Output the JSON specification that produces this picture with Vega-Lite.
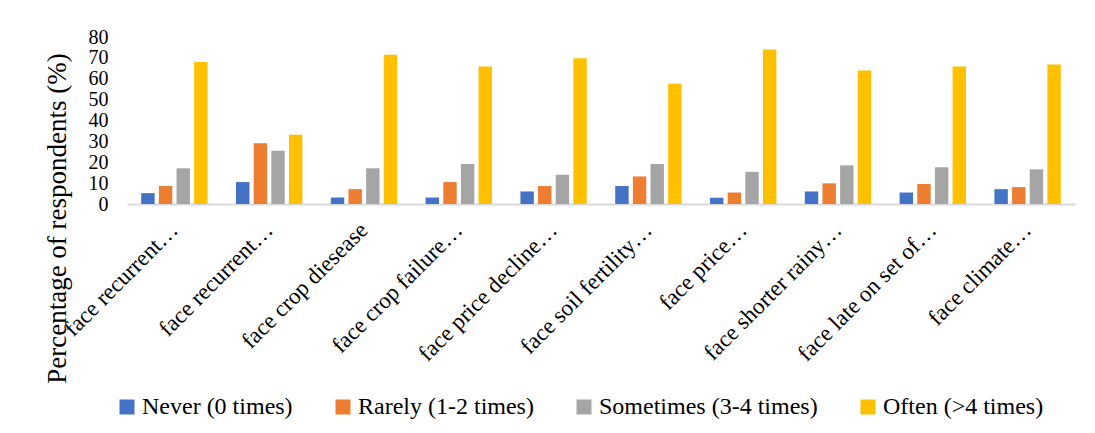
{
  "$schema": "https://vega.github.io/schema/vega-lite/v6.json",
  "autosize": "none",
  "padding": {"left": 127, "top": 37, "right": 20, "bottom": 229},
  "width": 948,
  "height": 167,
  "background": "white",
  "config": {
    "view": {"stroke": null},
    "font": "Liberation Serif",
    "axis": {"labelFont": "Liberation Serif", "titleFont": "Liberation Serif"},
    "legend": {"labelFont": "Liberation Serif"}
  },
  "data": {
    "values": [
      {"issue": "01|face recurrent…", "freq": "Never (0 times)", "pct": 5.2},
      {"issue": "01|face recurrent…", "freq": "Rarely (1-2 times)", "pct": 8.6},
      {"issue": "01|face recurrent…", "freq": "Sometimes (3-4 times)", "pct": 17.1},
      {"issue": "01|face recurrent…", "freq": "Often (>4 times)", "pct": 68.0},
      {"issue": "02|face recurrent…", "freq": "Never (0 times)", "pct": 10.5},
      {"issue": "02|face recurrent…", "freq": "Rarely (1-2 times)", "pct": 29.1},
      {"issue": "02|face recurrent…", "freq": "Sometimes (3-4 times)", "pct": 25.5},
      {"issue": "02|face recurrent…", "freq": "Often (>4 times)", "pct": 33.2},
      {"issue": "03|face crop diesease", "freq": "Never (0 times)", "pct": 3.1},
      {"issue": "03|face crop diesease", "freq": "Rarely (1-2 times)", "pct": 7.1},
      {"issue": "03|face crop diesease", "freq": "Sometimes (3-4 times)", "pct": 17.1},
      {"issue": "03|face crop diesease", "freq": "Often (>4 times)", "pct": 71.5},
      {"issue": "04|face crop failure…", "freq": "Never (0 times)", "pct": 3.1},
      {"issue": "04|face crop failure…", "freq": "Rarely (1-2 times)", "pct": 10.5},
      {"issue": "04|face crop failure…", "freq": "Sometimes (3-4 times)", "pct": 19.2},
      {"issue": "04|face crop failure…", "freq": "Often (>4 times)", "pct": 65.9},
      {"issue": "05|face price decline…", "freq": "Never (0 times)", "pct": 6.0},
      {"issue": "05|face price decline…", "freq": "Rarely (1-2 times)", "pct": 8.6},
      {"issue": "05|face price decline…", "freq": "Sometimes (3-4 times)", "pct": 14.0},
      {"issue": "05|face price decline…", "freq": "Often (>4 times)", "pct": 69.8},
      {"issue": "06|face soil fertility…", "freq": "Never (0 times)", "pct": 8.6},
      {"issue": "06|face soil fertility…", "freq": "Rarely (1-2 times)", "pct": 13.2},
      {"issue": "06|face soil fertility…", "freq": "Sometimes (3-4 times)", "pct": 19.2},
      {"issue": "06|face soil fertility…", "freq": "Often (>4 times)", "pct": 57.6},
      {"issue": "07|face price…", "freq": "Never (0 times)", "pct": 3.0},
      {"issue": "07|face price…", "freq": "Rarely (1-2 times)", "pct": 5.5},
      {"issue": "07|face price…", "freq": "Sometimes (3-4 times)", "pct": 15.4},
      {"issue": "07|face price…", "freq": "Often (>4 times)", "pct": 74.0},
      {"issue": "08|face shorter rainy…", "freq": "Never (0 times)", "pct": 6.0},
      {"issue": "08|face shorter rainy…", "freq": "Rarely (1-2 times)", "pct": 9.9},
      {"issue": "08|face shorter rainy…", "freq": "Sometimes (3-4 times)", "pct": 18.5},
      {"issue": "08|face shorter rainy…", "freq": "Often (>4 times)", "pct": 63.9},
      {"issue": "09|face late on set of…", "freq": "Never (0 times)", "pct": 5.5},
      {"issue": "09|face late on set of…", "freq": "Rarely (1-2 times)", "pct": 9.6},
      {"issue": "09|face late on set of…", "freq": "Sometimes (3-4 times)", "pct": 17.6},
      {"issue": "09|face late on set of…", "freq": "Often (>4 times)", "pct": 65.9},
      {"issue": "10|face climate…", "freq": "Never (0 times)", "pct": 7.1},
      {"issue": "10|face climate…", "freq": "Rarely (1-2 times)", "pct": 8.1},
      {"issue": "10|face climate…", "freq": "Sometimes (3-4 times)", "pct": 16.6},
      {"issue": "10|face climate…", "freq": "Often (>4 times)", "pct": 66.8}
    ]
  },
  "mark": {"type": "bar"},
  "encoding": {
    "x": {
      "field": "issue",
      "type": "nominal",
      "sort": "ascending",
      "scale": {"paddingInner": 0.3, "paddingOuter": 0.15},
      "axis": {
        "title": null,
        "labelExpr": "split(datum.value, '|')[1]",
        "labelFont": "Liberation Serif",
        "labelAngle": -45,
        "labelAlign": "right",
        "labelBaseline": "middle",
        "labelPadding": 22,
        "labelFontSize": 23,
        "labelColor": "#000000",
        "labelLimit": 400,
        "labelOverlap": false,
        "ticks": false,
        "domainColor": "#d9d9d9",
        "domainWidth": 2
      }
    },
    "xOffset": {
      "field": "freq",
      "type": "nominal",
      "sort": ["Never (0 times)", "Rarely (1-2 times)", "Sometimes (3-4 times)", "Often (>4 times)"],
      "scale": {"paddingInner": 0.24}
    },
    "y": {
      "field": "pct",
      "type": "quantitative",
      "scale": {"domain": [0, 80], "nice": false},
      "axis": {
        "title": "Percentage of respondents (%)",
        "titleFont": "Liberation Serif",
        "titleFontSize": 27,
        "titleFontWeight": "normal",
        "titleColor": "#000000",
        "titleAngle": -90,
        "titleX": -70,
        "titleY": 181,
        "titleAlign": "center",
        "titleBaseline": "middle",
        "values": [0, 10, 20, 30, 40, 50, 60, 70, 80],
        "labelFont": "Liberation Serif",
        "labelFontSize": 20,
        "labelColor": "#000000",
        "labelPadding": 19,
        "labelOverlap": false,
        "labelFlush": false,
        "ticks": false,
        "domain": false,
        "grid": false
      }
    },
    "color": {
      "field": "freq",
      "type": "nominal",
      "scale": {
        "domain": ["Never (0 times)", "Rarely (1-2 times)", "Sometimes (3-4 times)", "Often (>4 times)"],
        "range": ["#4472C4", "#ED7D31", "#A5A5A5", "#FFC000"]
      },
      "legend": {
        "title": null,
        "orient": "none",
        "direction": "horizontal",
        "legendX": -12,
        "legendY": 358,
        "symbolType": "square",
        "symbolSize": 225,
        "symbolStrokeWidth": 0,
        "labelFont": "Liberation Serif",
        "labelFontSize": 24,
        "labelColor": "#000000",
        "labelOffset": 3,
        "columnPadding": 38,
        "labelLimit": 400,
        "padding": 0
      }
    }
  }
}
